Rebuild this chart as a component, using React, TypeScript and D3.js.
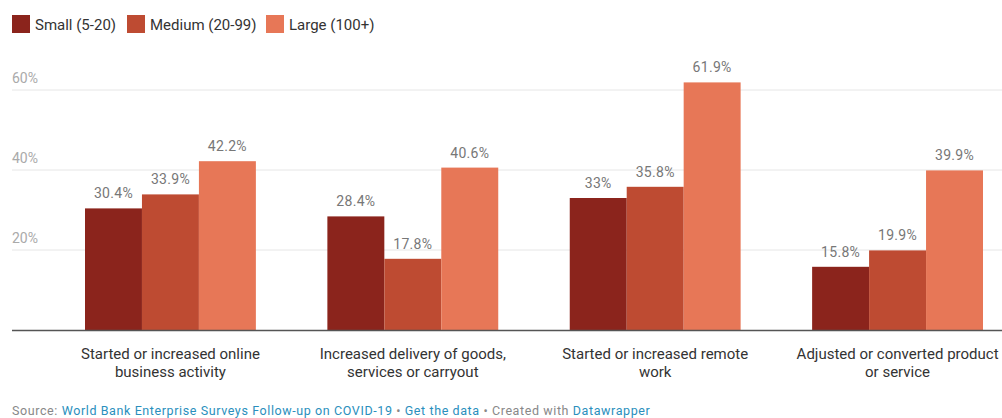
import React from "react";
import * as d3 from "d3";

const categories = [
  "Started or increased online business activity",
  "Increased delivery of goods, services or carryout",
  "Started or increased remote work",
  "Adjusted or converted product or service",
];
const categoryLines = [
  ["Started or increased online", "business activity"],
  ["Increased delivery of goods,", "services or carryout"],
  ["Started or increased remote", "work"],
  ["Adjusted or converted product", "or service"],
];
const seriesNames = ["Small (5-20)", "Medium (20-99)", "Large (100+)"];
const small = [30.4, 28.4, 33, 15.8];
const medium = [33.9, 17.8, 35.8, 19.9];
const large = [42.2, 40.6, 61.9, 39.9];
const yTicks = [20, 40, 60];
const colors = ["#8b241c", "#be4b32", "#e77757"];

export default function App() {
  const W = 1002, H = 418;
  const series = [small, medium, large];
  const y = d3.scaleLinear().domain([0, 60]).range([330, 90]);
  const x0 = d3.scaleBand().domain(categories).range([49.25, 1018.75]).paddingInner(0.295).paddingOuter(0.1475);
  const x1 = d3.scaleBand().domain(seriesNames).range([0, x0.bandwidth()]);
  const font = "Roboto, sans-serif";
  const legendX = [12, 127, 266];
  return (
    <svg width={W} height={H} style={{ position: "absolute", left: 0, top: 0, fontFamily: font }}>
      <rect width={W} height={H} fill="#fff" />
      {seriesNames.map((s, i) => (
        <g key={s} transform={`translate(${legendX[i]},15)`}>
          <rect width={18} height={18} fill={colors[i]} />
          <text x={23} y={14.5} fontSize={15} fill="#333">{s}</text>
        </g>
      ))}
      {yTicks.map((t) => (
        <g key={t}>
          <line x1={12} x2={1002} y1={y(t)} y2={y(t)} stroke="#e6e6e6" strokeWidth={1} />
          <text x={12} y={y(t) - 7} fontSize={14} fill="#aaa">{t}%</text>
        </g>
      ))}
      {categories.map((c, ci) => (
        <g key={c} transform={`translate(${x0(c)},0)`}>
          {series.map((vals, si) => {
            const v = vals[ci];
            const bx = x1(seriesNames[si])!;
            return (
              <g key={si}>
                <rect x={bx} y={y(v)} width={x1.bandwidth()} height={y(0) - y(v)} fill={colors[si]} />
                <text x={bx + x1.bandwidth() / 2} y={y(v) - 10} textAnchor="middle" fontSize={14} letterSpacing={0.3} fill="#777">{v}%</text>
              </g>
            );
          })}
          {categoryLines[ci].map((l, li) => (
            <text key={li} x={x0.bandwidth() / 2} y={359 + li * 17.5} textAnchor="middle" fontSize={15} fill="#333">{l}</text>
          ))}
        </g>
      ))}
      <line x1={12} x2={1002} y1={y(0) + 0.5} y2={y(0) + 0.5} stroke="#555" strokeWidth={1.5} />
      <text x={12} y={415} fontSize={12.5} letterSpacing={0.6} fill="#888">
        Source: <tspan fill="#2a8fbd">World Bank Enterprise Surveys Follow-up on COVID-19</tspan> • <tspan fill="#2a8fbd">Get the data</tspan> • Created with <tspan fill="#2a8fbd">Datawrapper</tspan>
      </text>
    </svg>
  );
}
